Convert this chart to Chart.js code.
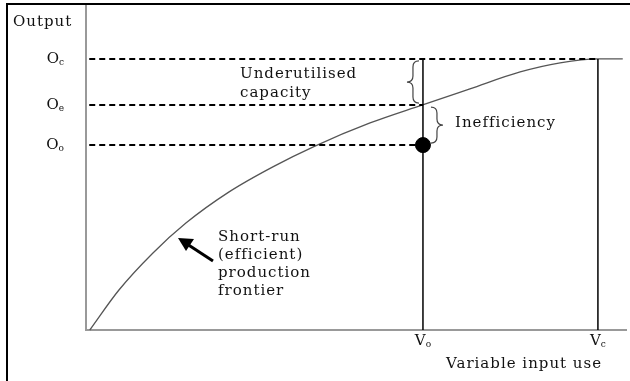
<!DOCTYPE html>
<html>
<head>
<meta charset="utf-8">
<script src="https://cdn.jsdelivr.net/npm/chart.js@4.4.1/dist/chart.umd.min.js"></script>
<style>
  html, body { margin: 0; padding: 0; background: #fff; }
  #wrap { width: 630px; height: 381px; }
</style>
</head>
<body>
<div id="wrap"><canvas id="myChart" width="630" height="381"></canvas></div>
<script>
// production frontier (x = variable input, y = output)
const frontierX = [0.7, 6.1, 12.4, 18.5, 26.5, 34.6, 42.4, 52.6, 62.2, 71.1, 80.4, 87.8, 94.8, 99.4];
const frontierY = [0, 12.3, 23.7, 32.9, 42.5, 50.2, 56.6, 63.7, 69.2, 74.2, 79.4, 82.2, 83.4, 83.4];

// levels on the axes
const outputLabels = ['Oo', 'Oe', 'Oc'];
const outputValues = [56.9, 69.2, 83.4];
const inputLabels = ['Vo', 'Vc'];
const inputValues = [62.4, 94.8];

const fontFamily = '"DejaVu Serif", "Liberation Serif", serif';

function pts(xs, ys) {
    return xs.map((x, i) => ({ x: x, y: ys[i] }));
}

// draws "O" + small subscript letter
function drawSubLabel(ctx, text, x, y, align) {
    const main = text[0];
    const sub = text.slice(1);
    ctx.font = '15px ' + fontFamily;
    const wMain = ctx.measureText(main).width;
    ctx.font = '9px ' + fontFamily;
    const wSub = ctx.measureText(sub).width;
    let left = x;
    if (align === 'right') left = x - wMain - wSub;
    if (align === 'center') left = x - (wMain + wSub) / 2;
    ctx.textAlign = 'left';
    ctx.textBaseline = 'middle';
    ctx.font = '15px ' + fontFamily;
    ctx.fillText(main, left, y);
    ctx.font = '9px ' + fontFamily;
    ctx.fillText(sub, left + wMain, y + 4);
}

function brace(ctx, x, y1, y2, dir) {
    // dir -1 points left, +1 points right
    const mid = (y1 + y2) / 2;
    const w = 6 * dir;
    ctx.beginPath();
    ctx.moveTo(x - w, y1);
    ctx.quadraticCurveTo(x, y1, x, y1 + 6);
    ctx.lineTo(x, mid - 6);
    ctx.quadraticCurveTo(x, mid, x + w, mid);
    ctx.quadraticCurveTo(x, mid, x, mid + 6);
    ctx.lineTo(x, y2 - 6);
    ctx.quadraticCurveTo(x, y2, x - w, y2);
    ctx.stroke();
}

const annotations = {
    id: 'annotations',
    afterDraw(chart) {
        const ctx = chart.ctx;
        const xs = chart.scales.x;
        const ys = chart.scales.y;
        ctx.save();
        ctx.fillStyle = '#111';

        // frame (left and top only, picture is cropped)
        ctx.strokeStyle = '#000';
        ctx.lineWidth = 2;
        ctx.beginPath();
        ctx.moveTo(7, 381);
        ctx.lineTo(7, 4);
        ctx.lineTo(630, 4);
        ctx.stroke();

        // axis labels
        ctx.letterSpacing = '0px';
        outputLabels.forEach((t, i) => drawSubLabel(ctx, t, 64, ys.getPixelForValue(outputValues[i]), 'right'));
        inputLabels.forEach((t, i) => drawSubLabel(ctx, t, xs.getPixelForValue(inputValues[i]), 341, 'center'));

        ctx.font = '15px ' + fontFamily;
        ctx.letterSpacing = '1px';
        ctx.textBaseline = 'middle';
        ctx.textAlign = 'left';
        ctx.fillText('Output', 13, 22);
        ctx.fillText('Variable input use', 446, 364);

        ctx.fillText('Underutilised', 240, 74);
        ctx.fillText('capacity', 240, 93);
        ctx.fillText('Inefficiency', 455, 123);
        ['Short-run', '(efficient)', 'production', 'frontier'].forEach((t, i) => {
            ctx.fillText(t, 218, 237 + i * 18);
        });
        ctx.letterSpacing = '0px';

        // braces
        ctx.strokeStyle = '#444';
        ctx.lineWidth = 1.2;
        const xo = xs.getPixelForValue(inputValues[0]);
        const yc = ys.getPixelForValue(outputValues[2]);
        const ye = ys.getPixelForValue(outputValues[1]);
        const yo = ys.getPixelForValue(outputValues[0]);
        brace(ctx, xo - 10, yc + 2, ye - 2, -1);
        brace(ctx, xo + 14, ye + 2, yo - 2, 1);

        // arrow
        ctx.strokeStyle = '#000';
        ctx.lineWidth = 3;
        ctx.beginPath();
        ctx.moveTo(213, 261);
        ctx.lineTo(187, 244);
        ctx.stroke();
        ctx.beginPath();
        ctx.moveTo(178, 238);
        ctx.lineTo(194, 239);
        ctx.lineTo(186, 251);
        ctx.closePath();
        ctx.fillStyle = '#000';
        ctx.fill();
        ctx.restore();
    }
};

const dashed = { borderColor: '#000', borderWidth: 2, borderDash: [6, 4], pointRadius: 0, showLine: true, clip: false };
const solid = { borderColor: '#000', borderWidth: 1.5, pointRadius: 0, showLine: true, clip: false };

new Chart('myChart', {
    type: 'scatter',
    data: {
        datasets: [
            Object.assign({ data: [{ x: 0.6, y: outputValues[2] }, { x: inputValues[1], y: outputValues[2] }] }, dashed),
            Object.assign({ data: [{ x: 0.6, y: outputValues[1] }, { x: inputValues[0], y: outputValues[1] }] }, dashed),
            Object.assign({ data: [{ x: 0.6, y: outputValues[0] }, { x: inputValues[0], y: outputValues[0] }] }, dashed),
            Object.assign({ data: [{ x: inputValues[0], y: 0 }, { x: inputValues[0], y: outputValues[2] }] }, solid),
            Object.assign({ data: [{ x: inputValues[1], y: 0 }, { x: inputValues[1], y: outputValues[2] }] }, solid),
            {
                data: pts(frontierX, frontierY),
                showLine: true,
                borderColor: '#555',
                borderWidth: 1.3,
                pointRadius: 0,
                cubicInterpolationMode: 'monotone',
                clip: false
            },
            {
                data: [{ x: inputValues[0], y: outputValues[0] }],
                pointRadius: 7.5,
                pointBackgroundColor: '#000',
                pointBorderColor: '#000'
            }
        ]
    },
    options: {
        responsive: false,
        animation: false,
        events: [],
        layout: { autoPadding: false, padding: { left: 86, top: 5, right: 4, bottom: 51 } },
        plugins: { legend: { display: false }, tooltip: { enabled: false } },
        scales: {
            x: {
                type: 'linear', min: 0, max: 100,
                grid: { display: false, drawTicks: false },
                ticks: { display: false },
                border: { color: '#999', width: 2 },
                afterFit: s => { s.height = 0; s.paddingLeft = 0; s.paddingRight = 0; }
            },
            y: {
                type: 'linear', min: 0, max: 100,
                grid: { display: false, drawTicks: false },
                ticks: { display: false },
                border: { color: '#999', width: 2 },
                afterFit: s => { s.width = 0; s.paddingTop = 0; s.paddingBottom = 0; }
            }
        }
    },
    plugins: [annotations]
});
</script>
</body>
</html>
